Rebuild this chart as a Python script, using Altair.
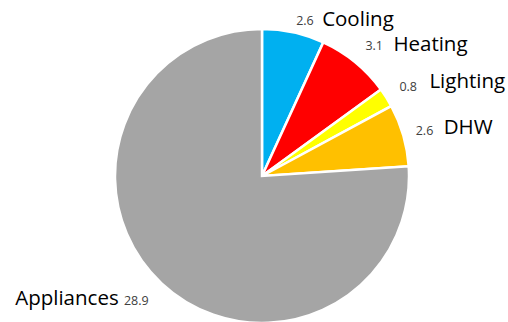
import altair as alt
import pandas as pd

# Annual energy use by end use
categories = ["Cooling", "Heating", "Lighting", "DHW", "Appliances"]
values = [2.6, 3.1, 0.8, 2.6, 28.9]
colors = ["#00B0F0", "#FF0000", "#FFFF00", "#FFC000", "#A5A5A5"]

df = pd.DataFrame({
    "category": categories,
    "value": values,
    "order": list(range(len(categories))),
})

CX, CY = 262, 176
R = 147
LABEL_R = 160

# per-label placement: (dx, dy, align) for the number and for the name
label_style = {
    "Cooling":    {"num": (0, 1, "left"),   "name": (26, 0, "left")},
    "Heating":    {"num": (2, -6, "left"),  "name": (30, -7, "left")},
    "Lighting":   {"num": (2, -4, "left"),  "name": (32, -9, "left")},
    "DHW":        {"num": (0, -1, "left"),  "name": (28, -4, "left")},
    "Appliances": {"num": (-4, 8, "right"), "name": (-34, 6, "right")},
}

base = alt.Chart(df).encode(
    theta=alt.Theta("value:Q", stack=True),
    order=alt.Order("order:Q"),
    x=alt.value(CX),
    y=alt.value(CY),
)

pie = base.mark_arc(outerRadius=R, stroke="white", strokeWidth=2.5).encode(
    color=alt.Color(
        "category:N",
        scale=alt.Scale(domain=categories, range=colors),
        legend=None,
    )
)

layers = [pie]
for cat in categories:
    st = label_style[cat]
    ndx, ndy, nal = st["num"]
    mdx, mdy, mal = st["name"]
    num = base.transform_calculate(
        t=f"datum.category == '{cat}' ? format(datum.value, '.1f') : ''"
    ).mark_text(
        radius=LABEL_R, dx=ndx, dy=ndy, align=nal, baseline="middle",
        font="Open Sans", fontSize=12.5, color="#404040",
    ).encode(text="t:N")
    name = base.transform_calculate(
        t=f"datum.category == '{cat}' ? datum.category : ''"
    ).mark_text(
        radius=LABEL_R, dx=mdx, dy=mdy, align=mal, baseline="middle",
        font="Open Sans", fontSize=20.5, color="#000000",
    ).encode(text="t:N")
    layers += [num, name]

chart = alt.layer(*layers).properties(
    width=508,
    height=322,
    autosize=alt.AutoSizeParams(type="none"),
    padding=0,
    background="white",
).configure_view(stroke=None)

chart.save("out.html", embed_options={"renderer": "svg", "actions": False})
